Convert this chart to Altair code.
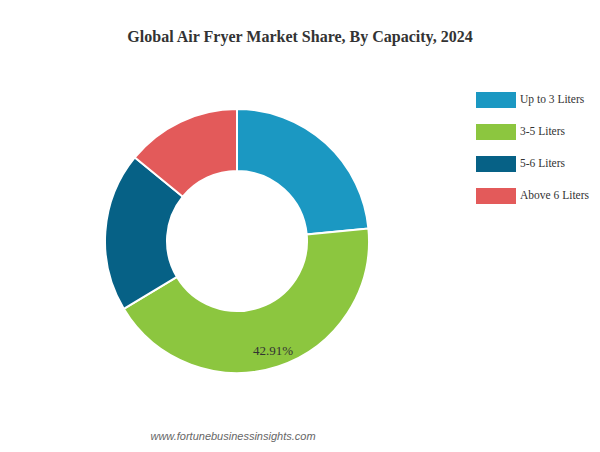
import altair as alt
import pandas as pd

categories = ["Up to 3 Liters", "3-5 Liters", "5-6 Liters", "Above 6 Liters"]
shares = [23.5, 42.91, 19.5, 14.09]
shown_labels = ["", "42.91%", "", ""]
colors = ["#1b98c2", "#8cc63f", "#066186", "#e35a5a"]
title_text = ["Global Air Fryer Market Share, By Capacity, 2024"]
source_text = ["www.fortunebusinessinsights.com"]

df = pd.DataFrame({
    "category": categories,
    "share": shares,
    "label": shown_labels,
    "idx": list(range(len(categories))),
})

CX, CY = 229, 233

base = alt.Chart(df).encode(
    theta=alt.Theta("share:Q", stack=True),
    order=alt.Order("idx:Q"),
)

arcs = base.mark_arc(innerRadius=70, outerRadius=132, stroke="white", strokeWidth=2).encode(
    x=alt.value(CX),
    y=alt.value(CY),
    color=alt.Color(
        "category:N",
        scale=alt.Scale(domain=categories, range=colors),
        legend=alt.Legend(
            title=None,
            orient="none",
            legendX=468,
            legendY=72,
            symbolType="M-1,-0.4L1,-0.4L1,0.4L-1,0.4Z",
            symbolSize=1600,
            symbolStrokeWidth=0,
            symbolOpacity=1,
            labelFont="Liberation Serif",
            labelFontSize=11.5,
            labelColor="#333333",
            labelOffset=4,
            labelLimit=200,
            rowPadding=4,
            padding=0,
        ),
    ),
)

labels = base.mark_text(radius=116, font="Liberation Serif", fontSize=13, color="#333333").encode(
    x=alt.value(CX),
    y=alt.value(CY),
    text="label:N",
)

title = alt.Chart(pd.DataFrame({"t": title_text})).mark_text(
    font="Liberation Serif", fontSize=16, fontWeight="bold", color="#333333"
).encode(x=alt.value(292), y=alt.value(29), text="t:N")

source = alt.Chart(pd.DataFrame({"t": source_text})).mark_text(
    font="Liberation Sans", fontSize=11, fontStyle="italic", color="#666666"
).encode(x=alt.value(225), y=alt.value(429), text="t:N")

chart = alt.layer(arcs, labels, title, source).properties(
    width=584, height=436, autosize=alt.AutoSizeParams(type="none"), padding=0,
    background="white",
).configure_view(strokeWidth=0, stroke="transparent")

chart.save("out.html", embed_options={"renderer": "svg", "actions": False})
